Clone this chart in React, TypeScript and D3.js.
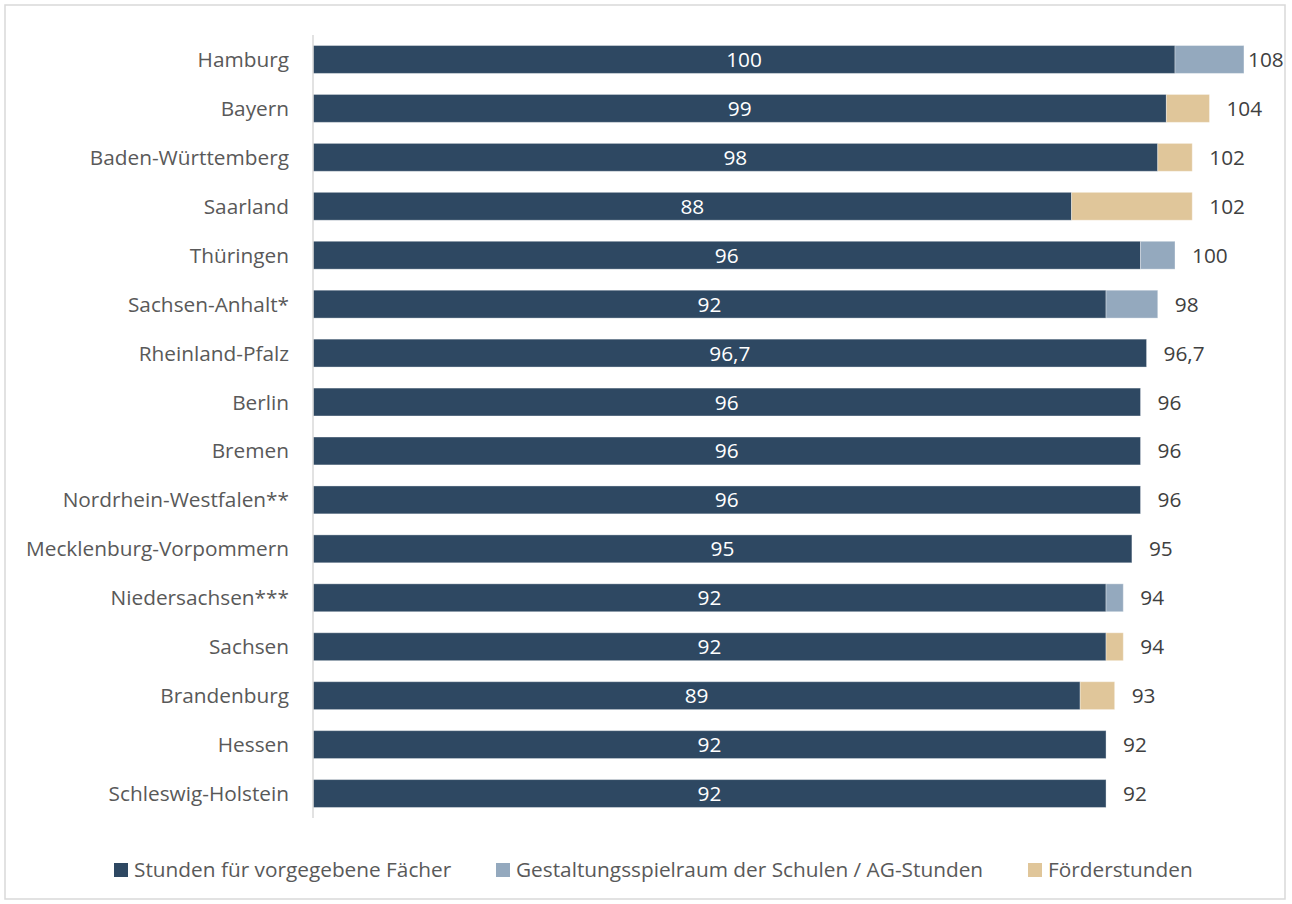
import React, { useEffect, useRef } from "react";
import * as d3 from "d3";

const states = [
  "Hamburg",
  "Bayern",
  "Baden-Württemberg",
  "Saarland",
  "Thüringen",
  "Sachsen-Anhalt*",
  "Rheinland-Pfalz",
  "Berlin",
  "Bremen",
  "Nordrhein-Westfalen**",
  "Mecklenburg-Vorpommern",
  "Niedersachsen***",
  "Sachsen",
  "Brandenburg",
  "Hessen",
  "Schleswig-Holstein",
];

const pflicht = [100, 99, 98, 88, 96, 92, 96.7, 96, 96, 96, 95, 92, 92, 89, 92, 92];
const gestaltung = [8, 0, 0, 0, 4, 6, 0, 0, 0, 0, 0, 2, 0, 0, 0, 0];
const foerder = [0, 5, 4, 14, 0, 0, 0, 0, 0, 0, 0, 0, 2, 4, 0, 0];

const seriesNames = [
  "Stunden für vorgegebene Fächer",
  "Gestaltungsspielraum der Schulen / AG-Stunden",
  "Förderstunden",
];
const colors = ["#2E4862", "#94A9BE", "#E0C69A"];

const fmt = (v: number) => String(v).replace(".", ",");

export default function App() {
  const svgRef = useRef<SVGSVGElement>(null);

  useEffect(() => {
    document.body.style.margin = "0";
    if (!svgRef.current) return;
    const svg = d3.select(svgRef.current);
    svg.selectAll("*").remove();

    const width = 1292;
    const height = 904;
    const font = "'Open Sans', sans-serif";
    const fs = 20.8;

    // frame
    svg
      .append("rect")
      .attr("x", 5)
      .attr("y", 5)
      .attr("width", width - 12)
      .attr("height", height - 10)
      .attr("fill", "#fff")
      .attr("stroke", "#d9d9d9")
      .attr("stroke-width", 1.5);

    const y = d3
      .scaleBand()
      .domain(states)
      .range([35, 818])
      .paddingInner(0.43)
      .paddingOuter(0.215);

    const x = d3.scaleLinear().domain([0, 100]).range([313, 1175]);

    const rows = states.map((s, i) => ({
      state: s,
      vals: [pflicht[i], gestaltung[i], foerder[i]],
    }));

    const stack = d3
      .stack<{ state: string; vals: number[] }, number>()
      .keys([0, 1, 2])
      .value((d, k) => d.vals[k]);
    const stacked = stack(rows);

    stacked.forEach((layer, k) => {
      svg
        .append("g")
        .selectAll("rect")
        .data(layer.filter((d) => d[1] - d[0] > 0))
        .enter()
        .append("rect")
        .attr("x", (d) => x(d[0]))
        .attr("y", (d) => y(d.data.state)!)
        .attr("width", (d) => x(d[1]) - x(d[0]))
        .attr("height", y.bandwidth())
        .attr("fill", colors[k])
        .attr("stroke", "#ffffff")
        .attr("stroke-opacity", 0.35)
        .attr("stroke-width", 1);
    });

    // axis line
    svg
      .append("line")
      .attr("x1", 313)
      .attr("x2", 313)
      .attr("y1", 35)
      .attr("y2", 818)
      .attr("stroke", "#d9d9d9")
      .attr("stroke-width", 1.5);

    // category labels
    svg
      .append("g")
      .selectAll("text")
      .data(states)
      .enter()
      .append("text")
      .attr("x", 289)
      .attr("y", (d) => y(d)! + y.bandwidth() / 2)
      .attr("dy", "0.36em")
      .attr("text-anchor", "end")
      .attr("font-family", font)
      .attr("font-size", fs)
      .attr("fill", "#595959")
      .text((d) => d);

    // inside labels
    svg
      .append("g")
      .selectAll("text")
      .data(rows)
      .enter()
      .append("text")
      .attr("x", (d) => (x(0) + x(d.vals[0])) / 2)
      .attr("y", (d) => y(d.state)! + y.bandwidth() / 2)
      .attr("dy", "0.36em")
      .attr("text-anchor", "middle")
      .attr("font-family", font)
      .attr("font-size", fs)
      .attr("fill", "#ffffff")
      .text((d) => fmt(d.vals[0]));

    // totals
    svg
      .append("g")
      .selectAll("text")
      .data(rows)
      .enter()
      .append("text")
      .attr("x", (d) => {
        const total = d3.sum(d.vals);
        return Math.min(x(total) + 17, 1248);
      })
      .attr("y", (d) => y(d.state)! + y.bandwidth() / 2)
      .attr("dy", "0.36em")
      .attr("font-family", font)
      .attr("font-size", fs)
      .attr("fill", "#404040")
      .text((d) => fmt(Math.round(d3.sum(d.vals) * 10) / 10));

    // legend
    const legendX = [114, 496, 1028];
    const lg = svg.append("g");
    seriesNames.forEach((name, k) => {
      lg.append("rect")
        .attr("x", legendX[k])
        .attr("y", 863)
        .attr("width", 14)
        .attr("height", 14)
        .attr("fill", colors[k]);
      lg.append("text")
        .attr("x", legendX[k] + 20)
        .attr("y", 870)
        .attr("dy", "0.36em")
        .attr("font-family", font)
        .attr("font-size", fs)
        .attr("fill", "#595959")
        .text(name);
    });
  }, []);

  return <svg ref={svgRef} width={1292} height={904} style={{ display: "block" }} />;
}
